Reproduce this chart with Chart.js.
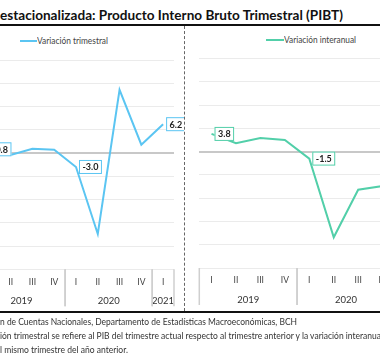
<!DOCTYPE html>
<html>
<head>
<meta charset="utf-8">
<script src="https://cdn.jsdelivr.net/npm/chart.js@4"></script>
<style>
  body { margin: 0; width: 380px; height: 361px; overflow: hidden; position: relative; background: #fff; font-family: Lato, "Open Sans", sans-serif; }
  .txt { position: absolute; white-space: nowrap; transform-origin: left top; color: #333; }
  .rule { position: absolute; left: 0; width: 380px; height: 2px; background: #111; }
  .swatch { position: absolute; height: 2px; }
  canvas { position: absolute; }
</style>
</head>
<body>
<div class="txt" id="title" data-w="343" style="left:0;top:8px;font-size:14px;line-height:14px;font-weight:bold;color:#111;">estacionalizada: Producto Interno Bruto Trimestral (PIBT)</div>
<div class="rule" style="top:24px"></div>

<!-- dashed divider between the two panels -->
<div style="position:absolute;left:184px;top:26px;height:285px;border-left:1px dashed #666;"></div>

<div class="swatch" style="left:20px;top:40px;width:17px;background:#5BC5F2"></div>
<div class="txt" data-w="71" style="left:37px;top:36px;font-size:9px;line-height:10px;color:#444;">Variación trimestral</div>
<div class="swatch" style="left:266px;top:39px;width:18px;background:#52CFA9"></div>
<div class="txt" data-w="72" style="left:284px;top:35px;font-size:9px;line-height:10px;color:#444;">Variación interanual</div>

<canvas id="chartQoq" width="206" height="262" style="left:-22px;top:50px"></canvas>
<canvas id="chartYoy" width="240" height="262" style="left:190px;top:49px"></canvas>

<div class="rule" style="top:311px"></div>
<div class="txt" data-w="297" style="left:0;top:316px;font-size:10px;line-height:11px;">n de Cuentas Nacionales, Departamento de Estadísticas Macroeconómicas, BCH</div>
<div class="txt" data-w="383" style="left:0;top:330px;font-size:10px;line-height:11px;">ión trimestral se refiere al PIB del trimestre actual respecto al trimestre anterior y la variación interanual</div>
<div class="txt" data-w="128" style="left:0;top:344px;font-size:10px;line-height:11px;">l mismo trimestre del año anterior.</div>

<script>
// data
const quarters = ["I", "II", "III", "IV", "I", "II", "III", "IV", "I"];
const years = ["2019", "2020", "2021"];
const yearSpan = [4, 4, 1];
const qoq = [0.8, -0.4, 0.9, 0.7, -3.0, -17.4, 13.6, 1.8, 6.2];
const yoy = [3.8, 1.8, 2.9, 2.5, -1.5, -18.4, -8.2, -7.4, -1.0];
const labelIdx = [0, 4, 8];

// squeeze each text to the width it has in the picture
document.querySelectorAll(".txt[data-w]").forEach(el => {
  const w = el.getBoundingClientRect().width;
  el.style.transform = `scaleX(${el.dataset.w / w})`;
});

// quarter and year labels under the plot, with the group separators
const quarterAxis = {
  id: "quarterAxis",
  afterDraw(chart) {
    const ctx = chart.ctx;
    const x = chart.scales.x;
    const bottom = chart.chartArea.bottom;
    const half = (x.getPixelForValue(1) - x.getPixelForValue(0)) / 2;
    ctx.save();
    ctx.textAlign = "center";
    ctx.textBaseline = "middle";
    ctx.fillStyle = "#444";
    ctx.font = "8.5px Lato";
    quarters.forEach((q, i) => {
      ctx.fillText(q, x.getPixelForValue(i), bottom + 12.5);
    });
    ctx.font = "9.5px Lato";
    ctx.fillStyle = "#333";
    ctx.strokeStyle = "#cfcfcf";
    ctx.lineWidth = 1.5;
    let start = 0;
    years.forEach((y, k) => {
      const end = start + yearSpan[k] - 1;
      const x0 = x.getPixelForValue(start) - half;
      const x1 = x.getPixelForValue(end) + half;
      ctx.fillText(y, (x0 + x1) / 2, bottom + 31.5);
      [x0, x1].forEach(px => {
        ctx.beginPath();
        ctx.moveTo(px, bottom);
        ctx.lineTo(px, bottom + 37);
        ctx.stroke();
      });
      start = end + 1;
    });
    ctx.restore();
  }
};

// boxed value labels right of the selected points
const boxLabels = {
  id: "boxLabels",
  afterDatasetsDraw(chart) {
    const ctx = chart.ctx;
    const ds = chart.data.datasets[0];
    const meta = chart.getDatasetMeta(0);
    ctx.save();
    ctx.font = "bold 9px Lato";
    ctx.textBaseline = "middle";
    labelIdx.forEach(i => {
      const pt = meta.data[i];
      const text = ds.data[i].toFixed(1);
      const w = ctx.measureText(text).width + 7;
      const bx = pt.x + 3;
      const by = pt.y - 7;
      ctx.fillStyle = "#fff";
      ctx.fillRect(bx, by, w, 14);
      ctx.strokeStyle = ds.borderColor;
      ctx.lineWidth = 1;
      ctx.strokeRect(bx + 0.5, by + 0.5, w - 1, 13);
      ctx.fillStyle = "#222";
      ctx.fillText(text, bx + 3.5, pt.y + 0.5);
    });
    ctx.restore();
  }
};

function makeChart(id, values, color, padding) {
  return new Chart(document.getElementById(id), {
    type: "line",
    data: {
      labels: quarters,
      datasets: [{ data: values, borderColor: color, borderWidth: 2, pointRadius: 0, tension: 0 }]
    },
    options: {
      responsive: false,
      animation: false,
      layout: { padding: padding },
      plugins: { legend: { display: false }, tooltip: { enabled: false } },
      scales: {
        x: { type: "category", display: false, offset: true },
        y: {
          min: -25,
          max: 20,
          ticks: { display: false, stepSize: 5 },
          border: { display: false },
          grid: {
            drawTicks: false,
            color: c => c.tick.value === 0 ? "#c8c8c8" : "#ebebeb",
            lineWidth: c => c.tick.value === 0 ? 2 : 1
          }
        }
      }
    },
    plugins: [quarterAxis, boxLabels]
  });
}

makeChart("chartQoq", qoq, "#5BC5F2", { left: 0, right: 10, top: 10, bottom: 42.7 });
makeChart("chartYoy", yoy, "#52CFA9", { left: 9.3, right: 10.7, top: 9.5, bottom: 43 });
</script>
</body>
</html>
